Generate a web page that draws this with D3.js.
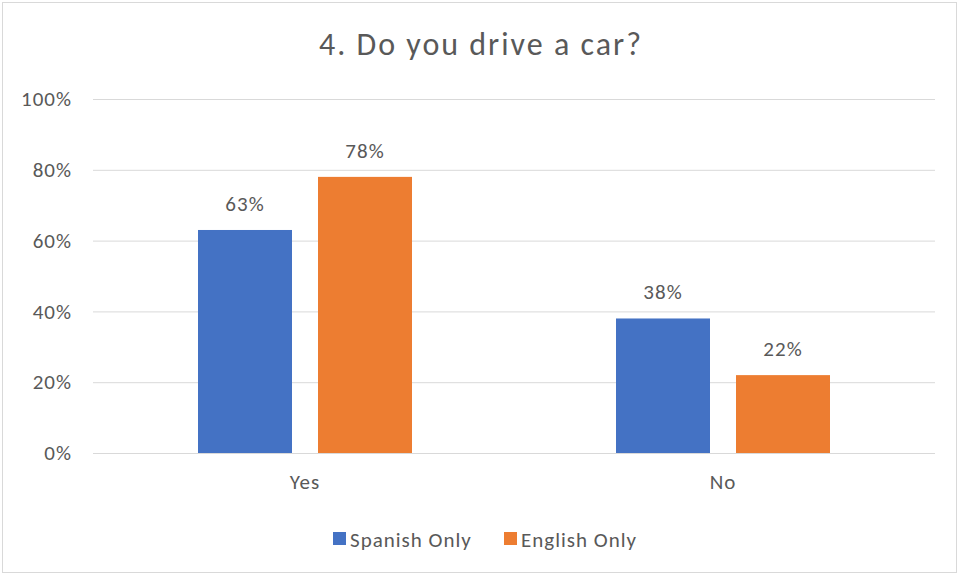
<!DOCTYPE html>
<html><head><meta charset="utf-8">
<script src="https://cdn.jsdelivr.net/npm/d3@7"></script>
<style>body{margin:0;background:#fff}svg{display:block}text{font-family:Carlito,Calibri,"Open Sans",sans-serif;fill:#595959}</style>
</head><body>
<script>
const categories = ["Yes", "No"];
const seriesNames = ["Spanish Only", "English Only"];
const spanishOnly = [0.63, 0.38];
const englishOnly = [0.78, 0.22];
const yTicks = [0, 0.2, 0.4, 0.6, 0.8, 1.0];
const colors = ["#4472C4", "#ED7D31"];
const chartTitle = "4. Do you drive a car?";

(function(){
const W = 960, H = 575;
const svg = d3.select("body").append("svg").attr("width", W).attr("height", H);
svg.append("rect").attr("x", 2.5).attr("y", 2.5).attr("width", W - 6).attr("height", H - 5)
  .attr("fill", "#fff").attr("stroke", "#d9d9d9");

const pL = 93, pR = 935, pT = 99, pB = 453;
const y = d3.scaleLinear().domain([0, 1]).range([pB, pT]);
const pIn = 1 - 214 / 418;
const x0 = d3.scaleBand().domain(categories).range([96, 932]).paddingInner(pIn).paddingOuter(pIn / 2);
const x1 = d3.scaleBand().domain(seriesNames).range([0, x0.bandwidth()]).paddingInner(26 / 120).paddingOuter(0);

svg.append("text").attr("x", 481).attr("y", 55).attr("text-anchor", "middle")
  .attr("font-size", 32).attr("letter-spacing", 2).text(chartTitle);

const yAxis = d3.axisLeft(y).tickValues(yTicks).tickFormat(d3.format(".0%")).tickSize(-(pR - pL)).tickPadding(21);
const gy = svg.append("g").attr("transform", `translate(${pL},0)`).call(yAxis);
gy.select(".domain").remove();
gy.selectAll(".tick line").attr("stroke", "#d9d9d9").attr("stroke-width", 1);
gy.selectAll(".tick text").attr("font-size", 21).attr("letter-spacing", 1).attr("fill", "#595959");

const data = categories.map((c, i) => ({cat: c, vals: [spanishOnly[i], englishOnly[i]]}));
const g = svg.selectAll("g.cat").data(data).enter().append("g").attr("class", "cat")
  .attr("transform", d => `translate(${x0(d.cat)},0)`);
g.selectAll("rect").data(d => d.vals.map((v, j) => ({v, s: seriesNames[j], j})))
  .enter().append("rect")
  .attr("x", d => x1(d.s)).attr("width", x1.bandwidth())
  .attr("y", d => y(d.v)).attr("height", d => pB - y(d.v))
  .attr("fill", d => colors[d.j]);
g.selectAll("text.lbl").data(d => d.vals.map((v, j) => ({v, s: seriesNames[j], j})))
  .enter().append("text").attr("class", "lbl")
  .attr("x", d => x1(d.s) + x1.bandwidth() / 2).attr("y", d => y(d.v) - 19)
  .attr("text-anchor", "middle").attr("font-size", 21).attr("letter-spacing", 1)
  .text(d => d3.format(".0%")(d.v));

const xAxis = d3.axisBottom(x0).tickSize(0).tickPadding(21);
const gx = svg.append("g").attr("transform", `translate(0,${pB})`).call(xAxis);
gx.select(".domain").remove();
gx.selectAll(".tick text").attr("font-size", 21).attr("letter-spacing", 1).attr("fill", "#595959");
svg.append("line").attr("x1", pL).attr("x2", pR).attr("y1", pB + 0.5).attr("y2", pB + 0.5).attr("stroke", "#d9d9d9");

const legX = [333, 504];
const leg = svg.selectAll("g.leg").data(seriesNames).enter().append("g").attr("class", "leg")
  .attr("transform", (d, i) => `translate(${legX[i]},532)`);
leg.append("rect").attr("width", 13).attr("height", 13).attr("fill", (d, i) => colors[i]);
leg.append("text").attr("x", 17).attr("y", 14.5).attr("font-size", 21).attr("letter-spacing", 1).text(d => d);
})();
</script>
</body></html>
